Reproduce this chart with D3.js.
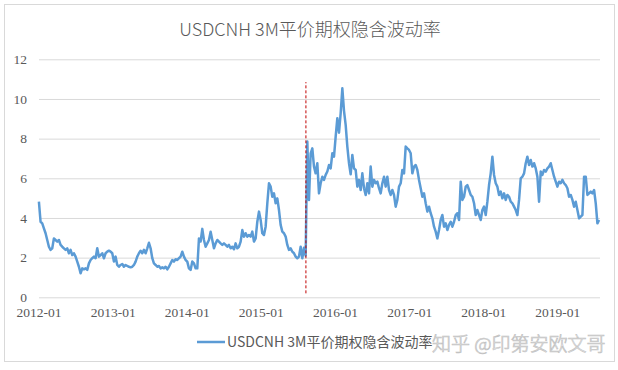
<!DOCTYPE html>
<html><head><meta charset="utf-8">
<script src="https://cdn.jsdelivr.net/npm/d3@7"></script>
<style>body{margin:0;background:#fff} svg{display:block}</style>
</head><body><svg id="c" width="618" height="370"></svg>
<script>
const titleText = "USDCNH 3M平价期权隐含波动率";
const seriesName = "USDCNH 3M平价期权隐含波动率";
const watermarkText = "知乎 @印第安欧文哥";
const xTickLabels = ["2012-01","2013-01","2014-01","2015-01","2016-01","2017-01","2018-01","2019-01"];
const yTicks = [0,2,4,6,8,10,12];
const firstDate = "2012-01-03";
const lastDate = "2019-07-26";
const eventDate = "2015-08-11";
const eventRange = [0.2, 10.85];
// regularly sampled observations between firstDate and lastDate
const values = [4.82,
3.81,3.73,3.48,3.23,2.89,2.55,2.39,2.47,2.97,2.89,
2.81,2.89,2.64,2.55,2.47,2.39,2.47,2.22,2.39,2.13,
2.22,2.05,1.80,1.54,1.21,1.46,1.41,1.46,1.38,1.71,
1.88,1.97,2.05,1.97,2.47,2.05,2.13,2.22,1.97,2.22,
2.30,2.35,2.30,2.22,1.80,2.05,1.63,1.54,1.63,1.68,
1.54,1.63,1.58,1.54,1.51,1.54,1.63,1.80,2.05,2.22,
2.35,2.22,2.39,2.22,2.47,2.75,2.47,1.97,1.71,1.63,
1.54,1.58,1.46,1.51,1.46,1.54,1.41,1.54,1.71,1.88,
1.80,1.92,1.88,1.97,2.05,2.30,2.05,1.88,1.80,1.46,
1.38,1.80,1.71,1.46,1.46,2.97,2.81,3.45,2.89,2.55,
2.72,2.89,3.31,2.89,2.47,2.72,2.89,2.81,2.72,2.64,
2.72,2.64,2.55,2.64,2.47,2.55,2.42,2.72,2.47,2.55,
2.81,3.39,3.06,3.23,3.06,3.14,3.06,3.31,2.81,2.97,
3.81,4.32,3.90,3.23,3.14,3.56,4.74,5.75,5.58,5.07,
5.24,4.74,4.99,4.40,3.65,3.31,3.23,3.06,2.64,2.39,
2.47,2.30,2.22,2.05,1.97,2.05,2.55,1.97,2.50,2.10,
7.85,4.91,7.26,7.51,6.59,6.25,6.76,5.24,5.75,6.08,
5.92,6.17,6.34,6.67,6.50,7.26,7.09,8.10,9.03,8.30,
9.28,10.54,9.40,8.69,7.60,6.76,6.20,7.18,6.50,6.42,
5.58,5.92,5.41,6.25,5.50,5.16,5.75,5.24,6.59,5.58,
5.92,5.75,5.83,5.50,5.24,5.75,6.08,5.58,6.08,5.41,
5.16,5.41,5.16,4.57,4.91,5.58,5.75,6.42,6.25,7.60,
7.51,7.43,7.26,6.25,6.59,6.67,6.42,5.92,5.50,5.07,
5.24,4.74,4.32,4.57,4.24,3.98,3.56,3.31,2.97,3.39,
3.90,4.15,3.56,3.73,3.39,3.65,3.81,3.56,3.81,4.15,
4.24,3.90,5.83,4.91,5.07,5.58,5.66,5.41,5.16,5.07,
4.74,4.15,4.40,4.15,3.90,4.40,4.57,4.15,4.82,5.66,
6.25,7.09,6.17,5.75,5.58,5.16,5.33,4.99,5.24,4.91,
5.16,5.07,4.82,4.74,4.57,4.40,4.15,4.91,6.00,6.08,
6.25,6.76,7.09,6.67,6.92,6.59,6.76,6.50,6.08,4.82,
6.34,6.17,6.42,6.34,6.50,6.59,6.76,6.42,6.08,5.83,
5.58,5.83,5.75,5.92,5.75,5.66,5.50,5.07,5.16,4.91,
4.57,4.82,4.40,3.98,4.07,4.15,6.08,6.08,5.16,5.24,
5.33,5.24,5.41,4.74,3.73,3.90];

const svg = d3.select("#c");
const parseDay = d3.timeParse("%Y-%m-%d");
const parseMonth = d3.timeParse("%Y-%m");
const t0 = parseDay(firstDate), t1 = parseDay(lastDate);
const data = values.map((v, i) => ({ date: new Date(+t0 + (t1 - t0) * i / (values.length - 1)), v }));

const plotL = 39, plotR = 600, plotT = 59.3, plotB = 297.3;
const x = d3.scaleTime().domain([parseMonth("2012-01"), parseMonth("2019-08")]).range([38.5, 600.3]);
const y = d3.scaleLinear().domain([0, 12]).range([plotB, plotT]);

svg.append("rect").attr("x", 0).attr("y", 0).attr("width", 618).attr("height", 370).attr("fill", "#fff");
svg.append("rect").attr("x", 4.5).attr("y", 4.5).attr("width", 610).attr("height", 357)
  .attr("fill", "none").attr("stroke", "#d9d9d9").attr("stroke-width", 1);

const yAxis = svg.append("g").attr("transform", `translate(${plotL},0)`)
  .call(d3.axisLeft(y).tickValues(yTicks).tickSize(-(plotR - plotL)).tickPadding(12).tickFormat(d3.format("d")));
yAxis.select(".domain").remove();
yAxis.selectAll(".tick line").attr("stroke", "#d9d9d9").attr("stroke-width", 1);
yAxis.selectAll(".tick text").attr("font-family", "'Liberation Serif', serif").attr("font-size", 13.5).attr("fill", "#595959");

const xAxis = svg.append("g").attr("transform", `translate(0,${plotB})`)
  .call(d3.axisBottom(x).tickValues(xTickLabels.map(parseMonth)).tickSize(0).tickPadding(10.5).tickFormat(d3.timeFormat("%Y-%m")));
xAxis.select(".domain").remove();
xAxis.selectAll(".tick text").attr("font-family", "'Liberation Serif', serif").attr("font-size", 13.5).attr("fill", "#595959");

svg.append("path").datum(data)
  .attr("d", d3.line().x(d => x(d.date)).y(d => y(d.v)))
  .attr("fill", "none").attr("stroke", "#5b9bd5").attr("stroke-width", 2.5)
  .attr("stroke-linejoin", "round");

const ex = x(parseDay(eventDate));
svg.append("line").attr("x1", ex).attr("x2", ex).attr("y1", y(eventRange[0])).attr("y2", y(eventRange[1]))
  .attr("stroke", "#c00000").attr("stroke-width", 1).attr("stroke-dasharray", "3,2");

svg.append("text").attr("x", 310).attr("y", 35.5).attr("text-anchor", "middle")
  .attr("font-family", "'Noto Sans CJK SC', sans-serif").attr("font-weight", 300).attr("font-size", 18)
  .attr("fill", "#595959").text(titleText);

const lg = svg.append("g");
lg.append("line").attr("x1", 197).attr("x2", 225).attr("y1", 342).attr("y2", 342)
  .attr("stroke", "#5b9bd5").attr("stroke-width", 2.5);
lg.append("text").attr("x", 227).attr("y", 347).attr("font-family", "'Noto Sans CJK SC', sans-serif")
  .attr("font-size", 14).attr("fill", "#595959").text(seriesName);

svg.append("text").attr("x", 432).attr("y", 350.5).attr("font-family", "'Noto Sans CJK SC', sans-serif")
  .attr("font-size", 19).attr("font-weight", 300).attr("fill", "#ffffff").attr("stroke", "#c2c2c2").attr("stroke-width", 0.7)
  .text(watermarkText);
</script></body></html>
